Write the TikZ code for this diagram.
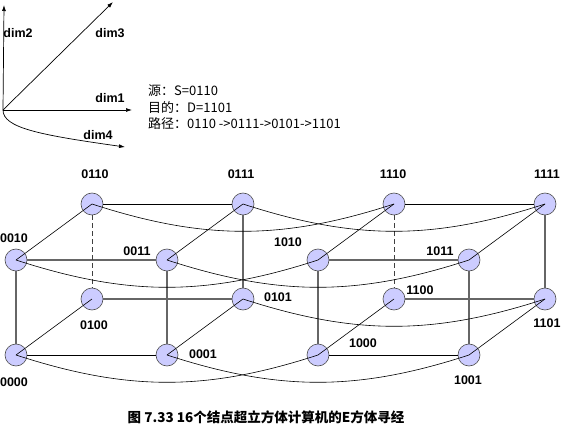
\documentclass[tikz,border=0pt]{standalone}
\usepackage{fontspec}
\setmainfont{Liberation Sans}
\newfontfamily\cjk{Noto Sans CJK SC}
\usetikzlibrary{arrows.meta}

\tikzset{
    vertex/.style = {circle, draw = black!70, fill = blue!20, minimum size = 22pt, inner sep = 0pt, line width = 0.6pt},
    lbl/.style = {font = \bfseries\fontsize{12.5}{12.5}\selectfont, inner sep = 0pt},
    route/.style = {anchor = west, inner sep = 0pt, font = \cjk\fontsize{13}{13}\selectfont},
    thinedge/.style = {black, line width = 0.6pt},
    heavyedge/.style = {black!60, line width = 1.2pt},
    hidden/.style = {black!75, line width = 0.8pt, dash pattern = on 5pt off 3pt},
    dimarrow/.style = {line width = 0.7pt, -{Latex[length = 6pt, width = 4pt]}},
}

\begin{document}
\begin{tikzpicture}[x = 1pt, y = -1pt]
    \useasboundingbox (0,0) rectangle (563,428);

    % Coordinates
    \coordinate (O) at (3,110);
    \coordinate (d1) at (132,110);
    \coordinate (d2) at (4,5);
    \coordinate (d3) at (113,2);
    \coordinate (d4) at (125,147);

    % Axes
    \draw [dimarrow] (O) -- (d1);
    \draw [dimarrow] (O) -- (d2);
    \draw [dimarrow] (O) -- (d3);
    \draw [dimarrow] (O) .. controls (3,128) and (40,135) .. (d4);
    \node [lbl] (l1) at (110,98) {dim1};
    \node [lbl] (l2) at (18,33) {dim2};
    \node [lbl] (l3) at (110,33) {dim3};
    \node [lbl] (l4) at (98,135.5) {dim4};

    % Route text
    \node [route] (src) at (148,91) {源：S=0110};
    \node [route] (dst) at (148,107.5) {目的：D=1101};
    \node [route] (path) at (148,124) {路径：0110 ->0111->0101->1101};

    % Nodes
    % back row
    \node [vertex] (n0110) at (92,204) {};
    \node [vertex] (n0111) at (243,204) {};
    \node [vertex] (n1110) at (394,204) {};
    \node [vertex] (n1111) at (545,204) {};
    % front row
    \node [vertex] (n0010) at (16,260) {};
    \node [vertex] (n0011) at (167,260) {};
    \node [vertex] (n1010) at (318,260) {};
    \node [vertex] (n1011) at (469,260) {};
    % back bottom row
    \node [vertex] (n0100) at (92,299) {};
    \node [vertex] (n0101) at (243,299) {};
    \node [vertex] (n1100) at (394,299) {};
    \node [vertex] (n1101) at (545,299) {};
    % front bottom row
    \node [vertex] (n0000) at (16,355) {};
    \node [vertex] (n0001) at (167,355) {};
    \node [vertex] (n1000) at (318,355) {};
    \node [vertex] (n1001) at (469,355) {};

    % Labels
    \node [lbl] (t0110) at (95,174) {0110};
    \node [lbl] (t0111) at (241,174) {0111};
    \node [lbl] (t1110) at (393,174) {1110};
    \node [lbl] (t1111) at (547,174) {1111};
    \node [lbl] (t0010) at (14,238) {0010};
    \node [lbl] (t0011) at (137,251) {0011};
    \node [lbl] (t1010) at (288,242) {1010};
    \node [lbl] (t1011) at (440,251) {1011};
    \node [lbl] (t0100) at (94,325) {0100};
    \node [lbl] (t0101) at (278,297) {0101};
    \node [lbl] (t1100) at (420,290) {1100};
    \node [lbl] (t1101) at (547,323) {1101};
    \node [lbl] (t0000) at (14,382) {0000};
    \node [lbl] (t0001) at (203,354) {0001};
    \node [lbl] (t1000) at (363,343) {1000};
    \node [lbl] (t1001) at (468,380) {1001};

    % Straight edges
    \draw [thinedge] (n0110) -- (n0111);
    \draw [thinedge] (n0000) -- (n0001);
    \draw [thinedge] (n1110) -- (n1111);
    \draw [thinedge] (n1000) -- (n1001);
    \draw [heavyedge] (n0010) -- (n0011);
    \draw [heavyedge] (n0100) -- (n0101);
    \draw [heavyedge] (n1010) -- (n1011);
    \draw [heavyedge] (n1100) -- (n1101);
    % verticals
    \draw [heavyedge] (n0010) -- (n0000);
    \draw [heavyedge] (n0011) -- (n0001);
    \draw [heavyedge] (n0111) -- (n0101);
    \draw [heavyedge] (n1010) -- (n1000);
    \draw [heavyedge] (n1011) -- (n1001);
    \draw [heavyedge] (n1111) -- (n1101);
    \draw [hidden] (n0110) -- (n0100);
    \draw [hidden] (n1110) -- (n1100);

    % Diagonals
    \draw [thinedge] (n0110.center) -- (n0010.center);
    \draw [thinedge] (n0111.center) -- (n0011.center);
    \draw [thinedge] (n0100.center) -- (n0000.center);
    \draw [thinedge] (n0101.center) -- (n0001.center);
    \draw [thinedge] (n1110.center) -- (n1010.center);
    \draw [thinedge] (n1111.center) -- (n1011.center);
    \draw [thinedge] (n1100.center) -- (n1000.center);
    \draw [thinedge] (n1101.center) -- (n1001.center);

    % dim4 arcs
    \draw [thinedge] (n0110.center) to [bend right = 18] (n1110.center);
    \draw [thinedge] (n0111.center) to [bend right = 18] (n1111.center);
    \draw [thinedge] (n0010.center) to [bend right = 18] (n1010.center);
    \draw [thinedge] (n0011.center) to [bend right = 18] (n1011.center);
    \draw [thinedge] (n0101.center) to [bend right = 18] (n1101.center);
    \draw [thinedge] (n0000.center) to [bend right = 18] (n1000.center);
    \draw [thinedge] (n0001.center) to [bend right = 18] (n1001.center);

    % Caption
    \node [inner sep = 0pt, font = \cjk\bfseries\fontsize{13.5}{13.5}\selectfont] (cap) at (266,417) {图 7.33 16个结点超立方体计算机的E方体寻经};

\end{tikzpicture}
\end{document}
